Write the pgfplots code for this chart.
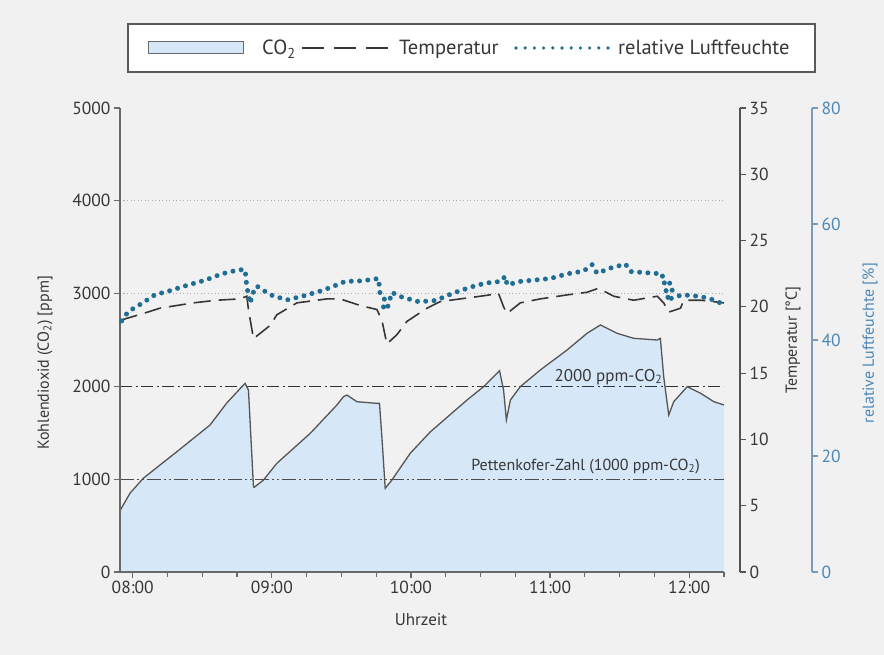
\documentclass[border=0pt]{standalone}
\usepackage{pgfplots}
\pgfplotsset{compat=1.18}
\usepackage{pgfplotstable}
\usepackage{fontspec}
\setmainfont{PT Sans}

\definecolor{bg}{RGB}{241,241,241}
\definecolor{co2fill}{RGB}{214,232,248}
\definecolor{co2line}{RGB}{85,85,85}
\definecolor{axgray}{RGB}{105,105,105}
\definecolor{txtgray}{RGB}{55,55,55}
\definecolor{tempcol}{RGB}{55,55,55}
\definecolor{humblue}{RGB}{30,110,150}
\definecolor{humaxis}{RGB}{125,155,185}
\definecolor{humtext}{RGB}{75,135,185}

% time in hours, CO2 in ppm
\pgfplotstableread{
t      co2
7.912  670
7.981  850
8.076  1010
8.317  1296
8.556  1584
8.676  1821
8.796  2015
8.808  2033
8.832  1961
8.868  919
8.873  912
8.940  991
9.036  1171
9.276  1494
9.468  1800
9.515  1889
9.540  1907
9.612  1835
9.755  1817
9.774  1817
9.791  1458
9.815  902
9.863  991
9.995  1279
10.139 1510
10.403 1853
10.522 1997
10.630 2158
10.637 2169
10.666 1960
10.686 1638
10.715 1853
10.786 1997
10.930 2177
11.122 2392
11.266 2572
11.362 2662
11.482 2572
11.601 2518
11.770 2500
11.793 2518
11.817 2104
11.853 1692
11.889 1835
11.986 1997
12.082 1926
12.177 1835
12.250 1800
}\coztab

% temperature in degC
\pgfplotstableread{
t      temp
7.915  19.0
8.076  19.5
8.196  19.9
8.436  20.3
8.604  20.5
8.772  20.6
8.820  20.8
8.832  19.8
8.868  17.6
8.988  18.6
9.036  19.4
9.180  20.3
9.252  20.4
9.396  20.6
9.491  20.6
9.635  20.1
9.755  19.8
9.791  19.0
9.827  17.2
9.899  17.9
9.971  18.9
10.115 19.9
10.211 20.4
10.355 20.6
10.499 20.8
10.630 21.0
10.666 20.0
10.691 19.5
10.786 20.3
10.930 20.6
11.122 20.9
11.266 21.1
11.348 21.4
11.458 20.8
11.601 20.5
11.770 20.8
11.817 20.3
11.853 19.6
11.938 19.9
11.961 20.5
12.082 20.5
12.250 20.3
}\temptab

% relative humidity in %
\pgfplotstableread{
t      rh
7.921  43.3
7.968  44.9
8.065  46.3
8.160  47.8
8.268  48.5
8.400  49.5
8.520  50.3
8.640  51.4
8.760  52.1
8.808  52.1
8.820  49.2
8.845  46.3
8.858  47.8
8.892  49.3
8.988  47.8
9.108  46.9
9.227  47.6
9.360  48.5
9.468  49.5
9.527  50.1
9.647  50.2
9.767  50.6
9.779  47.8
9.815  46.9
9.803  45.7
9.827  45.2
9.863  48.2
9.923  47.5
10.055 46.6
10.175 46.8
10.306 48.1
10.427 49.1
10.535 49.8
10.643 50.1
10.679 51.0
10.691 49.5
10.786 50.1
11.002 50.6
11.122 51.4
11.242 51.9
11.302 53.0
11.338 51.5
11.434 52.4
11.542 53.1
11.578 51.8
11.806 51.4
11.813 49.8
11.866 50.1
11.830 48.3
11.878 48.6
11.836 46.9
11.950 47.8
12.082 47.5
12.177 46.9
12.250 46.1
}\rhtab

\pgfplotsset{
  box/.style={at={(120pt,83pt)}, anchor=south west, scale only axis,
    height=464pt, xmin=7.9086, ymin=0,
    tick align=outside, major tick length=6pt, minor tick length=5pt,
    tick label style={font=\fontsize{17.5}{20}\selectfont},
    /pgf/number format/assume math mode=true,
    /pgf/number format/1000 sep={},
    scaled y ticks=false},
}

\begin{document}
\begin{tikzpicture}[x=1pt,y=1pt]
\fill[bg] (0,0) rectangle (884,655);
\useasboundingbox (0,0) rectangle (884,655);

% CO2 axis
\begin{axis}[box, width=604pt, xmax=12.2504, ymax=5000,
  axis x line*=bottom, axis y line*=left,
  axis line style={draw=axgray, line width=1.4pt, -},
  tick style={draw=axgray, line width=1.2pt},
  tick label style={text=txtgray},
  xtick={8,9,10,11,12}, xticklabels={08:00,09:00,10:00,11:00,12:00},
  minor xtick={8.25,8.5,8.75,9.25,9.5,9.75,10.25,10.5,10.75,11.25,11.5,11.75,12.25},
  ytick={0,1000,...,5000},
  axis on top]
  \addplot[fill=co2fill, draw=none] table[x=t, y=co2] {\coztab} \closedcycle;
  \addplot[gray!65, line width=1pt, dash pattern=on 1pt off 2.5pt] coordinates {(7.9086,3000) (12.2504,3000)};
  \addplot[gray!65, line width=1pt, dash pattern=on 1pt off 2.5pt] coordinates {(7.9086,4000) (12.2504,4000)};
  \addplot[black!80, line width=1pt, dash pattern=on 12pt off 3.5pt on 2pt off 3.5pt] coordinates {(7.9086,2000) (12.2504,2000)};
  \addplot[black!70, line width=1pt, dash pattern=on 14pt off 3pt on 2pt off 3pt on 2pt off 3pt] coordinates {(7.9086,1000) (12.2504,1000)};
  \addplot[co2line, line width=1.3pt] table[x=t, y=co2] {\coztab};
  \node[anchor=base, font=\fontsize{17}{20}\selectfont, text=txtgray] at (axis cs:11.42,2058) {2000 ppm-CO\textsubscript{2}};
  \node[anchor=base, font=\fontsize{16}{19}\selectfont, text=txtgray] at (axis cs:11.255,1099) {Pettenkofer-Zahl (1000 ppm-CO\textsubscript{2})};
\end{axis}

% temperature axis
\begin{axis}[box, width=620pt, xmax=12.3654, ymax=35,
  axis x line=none, axis y line*=right,
  axis line style={draw=axgray!80!black, line width=1.4pt, -},
  tick style={draw=axgray!80!black, line width=1.2pt},
  tick label style={text=txtgray},
  ytick={0,5,...,35}, clip=false]
  \addplot[tempcol, line width=1.6pt, dash pattern=on 17pt off 8pt] table[x=t, y=temp] {\temptab};
\end{axis}

% humidity axis
\begin{axis}[box, width=692pt, xmax=12.8830, ymax=80,
  axis x line=none, axis y line*=right,
  axis line style={draw=humaxis, line width=1.4pt, -},
  tick style={draw=humaxis, line width=1.2pt},
  tick label style={text=humtext},
  ytick={0,20,...,80}, clip=false]
  \addplot[humblue, line width=5pt, line cap=round, dash pattern=on 0pt off 8.3pt] table[x=t, y=rh] {\rhtab};
\end{axis}

% axis titles
\node[rotate=90, font=\fontsize{16}{19}\selectfont, text=txtgray] at (45,292) {Kohlendioxid (CO\textsubscript{2}) [ppm]};
\node[rotate=90, font=\fontsize{16}{19}\selectfont, text=txtgray] at (793,315) {Temperatur [°C]};
\node[rotate=90, font=\fontsize{16}{19}\selectfont, text=humtext] at (870,312) {relative Luftfeuchte [\%]};
\node[font=\fontsize{17}{20}\selectfont, text=txtgray] at (421,35) {Uhrzeit};

% legend
\draw[draw=black!65, line width=1.3pt, fill=white] (128,583) rectangle (815,631);
\draw[fill=co2fill, draw=axgray, line width=1pt] (148,601) rectangle (243,613);
\node[anchor=base west, inner sep=0pt, font=\fontsize{20.5}{24}\selectfont, text=txtgray] at (262,600) {CO\textsubscript{2}};
\draw[tempcol, line width=2.4pt, dash pattern=on 22pt off 10pt] (302,607) -- (388,607);
\node[anchor=base west, inner sep=0pt, font=\fontsize{20.5}{24}\selectfont, text=txtgray] at (399,600) {Temperatur};
\draw[humblue, line width=3.6pt, line cap=round, dash pattern=on 0pt off 9.2pt] (516,607) -- (608,607);
\node[anchor=base west, inner sep=0pt, font=\fontsize{20.5}{24}\selectfont, text=txtgray] at (618,600) {relative Luftfeuchte};
\end{tikzpicture}
\end{document}
